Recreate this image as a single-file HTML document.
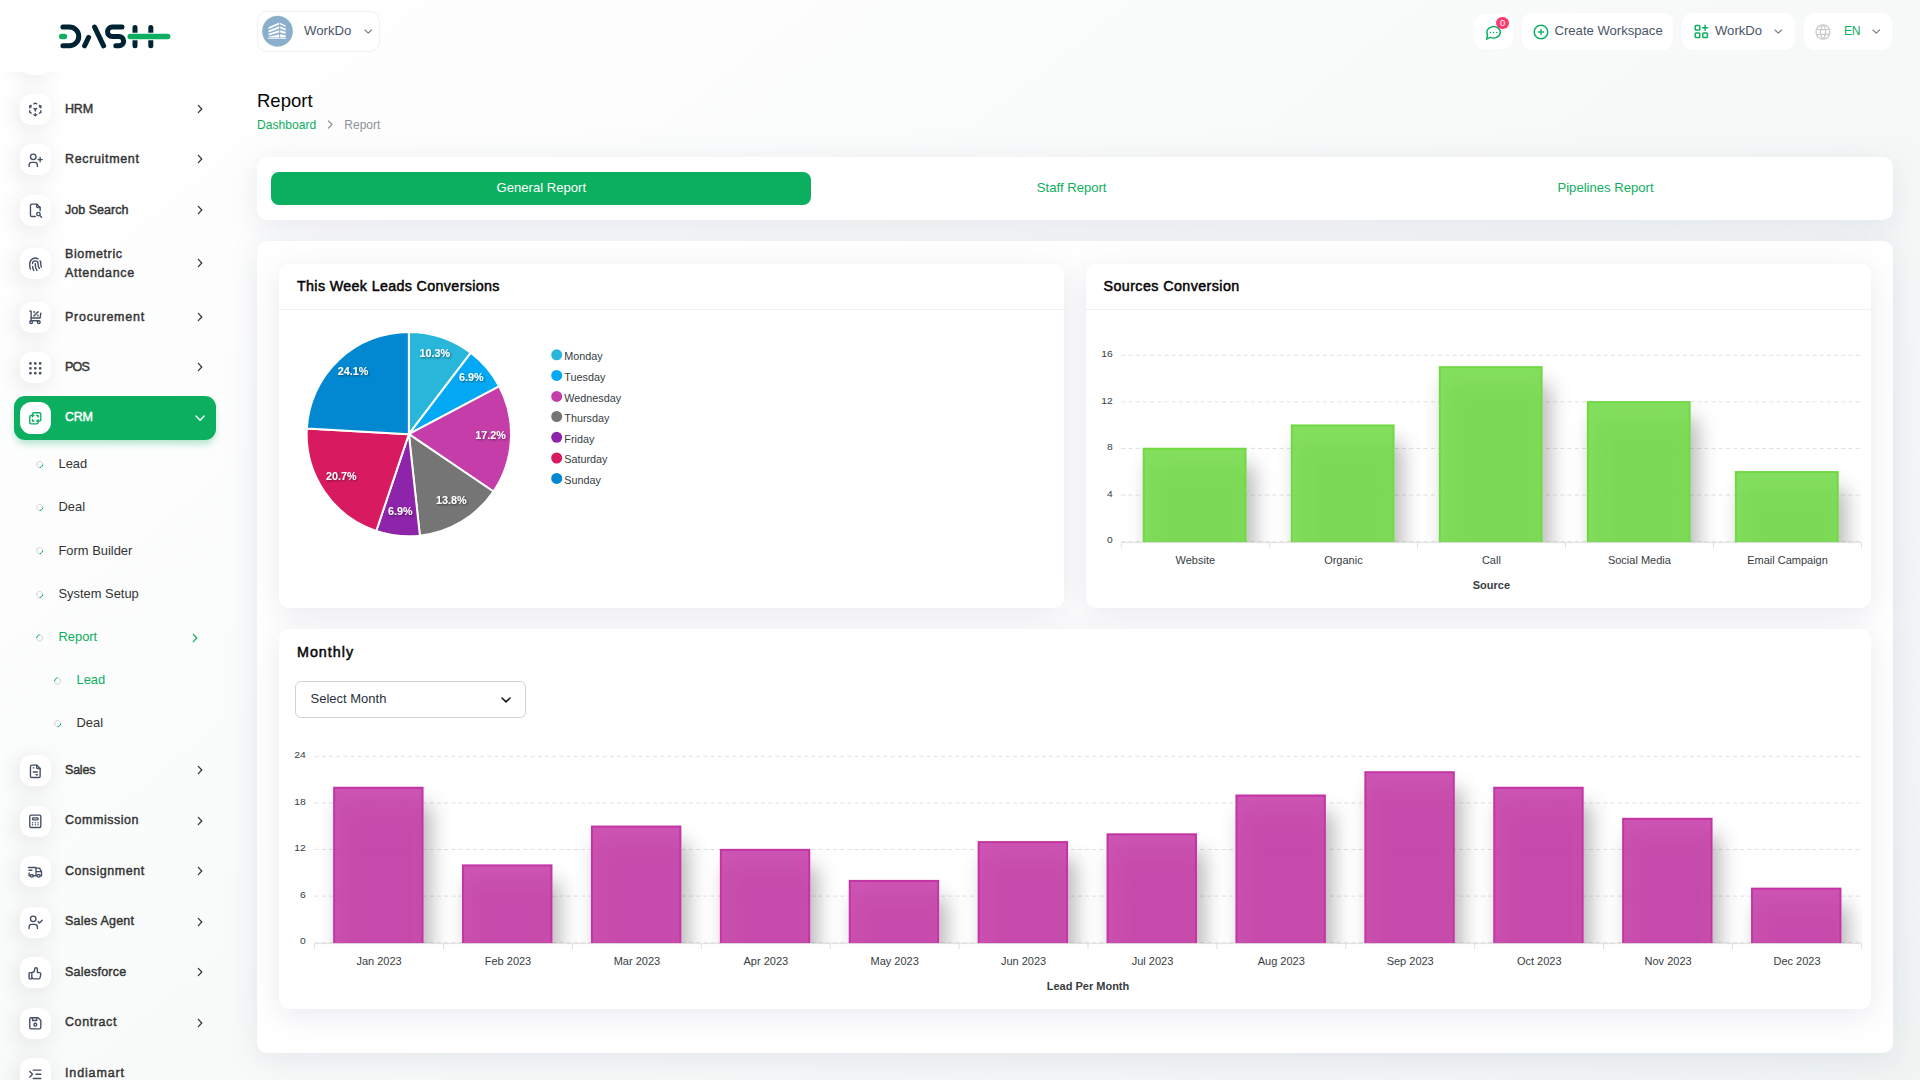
<!DOCTYPE html>
<html lang="en"><head><meta charset="utf-8"><title>Report</title>
<style>
*{box-sizing:border-box;margin:0;padding:0}
html,body{width:1920px;height:1080px;overflow:hidden}
body{font-family:"Liberation Sans",sans-serif;color:#293240;background:linear-gradient(141.55deg,rgba(240,244,243,0) 3.46%,#f0f4f3 99.86%),#ffffff;position:relative}
.abs{position:absolute}
.t{position:absolute;white-space:nowrap;line-height:20px}
svg{display:block;overflow:visible}
.ic{position:absolute;fill:none;stroke:#465064;stroke-width:2;stroke-linecap:round;stroke-linejoin:round}
/* sidebar */
.sidebar{position:absolute;left:0;top:0;width:240px;height:1080px}
.navwrap{position:absolute;left:0;top:72px;width:240px;height:1008px;overflow:hidden}
.mi{position:absolute;left:20px;width:31px;height:31px;border-radius:11.5px;background:#fff;box-shadow:-3px 4px 23px rgba(0,0,0,.10)}
.mi svg{position:absolute;left:7.4px;top:7.5px;width:16.6px;height:16.6px}
.nl{position:absolute;left:65px;font-size:12.5px;font-weight:400;color:#333;-webkit-text-stroke:.42px #333;line-height:19px;white-space:nowrap}
.sl{position:absolute;font-size:12.9px;color:#333;line-height:19px;white-space:nowrap}
.sl.g{color:#0caf60}
.chev{position:absolute;width:6px;height:10px;fill:none;stroke:#333;stroke-width:1.25;stroke-linecap:round;stroke-linejoin:round}
.bul{position:absolute;width:7.4px;height:7.4px;border-radius:50%;border:1px solid #d4d8e8;border-right-color:#0caf60;transform:rotate(45deg)}
.active{position:absolute;left:14px;top:396px;width:202px;height:44px;border-radius:11px;background:#0caf60;box-shadow:0 5px 7px -1px rgba(12,175,96,.30)}
/* header */
.hbtn{position:absolute;background:#fff;border-radius:10px}
.hd{font-size:13px;color:#465064}
/* cards */
.card{position:absolute;background:#fff;border-radius:10px;box-shadow:0 6px 30px rgba(182,186,203,.30)}
.ctitle{position:absolute;font-weight:700;font-size:14.5px;color:#060606;line-height:20px;white-space:nowrap}
.cx{font-family:"Liberation Sans",sans-serif}
</style></head>
<body>
<aside class="sidebar">
<svg class="abs" style="left:0;top:0;width:240px;height:70px" viewBox="0 0 240 70">
<g fill="none" stroke="#002333" stroke-width="5" stroke-linecap="round" stroke-linejoin="round">
<path d="M62.9 27.1H69.4A9.35 9.35 0 0 1 69.4 45.8H62.9"/>
<path d="M88.6 37.4L84.6 45.8"/>
<path d="M94.6 27.1L103.6 45.8"/>
<path d="M122 27.1H112.2A4.7 4.7 0 0 0 112.2 36.5H119A4.65 4.65 0 0 1 119 45.8H115.8"/>
<path d="M135 27.5V45.8"/>
<path d="M150.8 27.5V45.8"/>
</g>
<path d="M61.7 36.5H64.4" fill="none" stroke="#0caf60" stroke-width="5.4" stroke-linecap="round"/>
<path d="M130.2 36.5H167.7" fill="none" stroke="#ffffff" stroke-width="7.4" stroke-linecap="round"/>
<path d="M130.2 36.5H167.7" fill="none" stroke="#0caf60" stroke-width="5.4" stroke-linecap="round"/>
</svg>
<nav class="navwrap">
<div class="mi" style="top:-28.1px"></div>
<div class="mi" style="top:21.6px"><svg class="ic" viewBox="0 0 24 24" style="position:absolute"><path d="M6 17.6l-2 -1.1v-2.5"/><path d="M4 10v-2.5l2 -1.12"/><path d="M10 4.1l2 -1.1l2 1.1"/><path d="M18 6.4l2 1.1v2.5"/><path d="M20 14v2.5l-2 1.12"/><path d="M14 19.9l-2 1.1l-2 -1.1"/><path d="M12 12l2 -1.1"/><path d="M18 8.6l2 -1.1"/><path d="M12 12v2.5"/><path d="M12 18.5v2.5"/><path d="M12 12l-2 -1.12"/><path d="M6 8.6l-2 -1.1"/></svg></div><span class="nl" style="top:27.5px;letter-spacing:-0.2px">HRM</span><svg class="chev" style="left:197px;top:31.799999999999997px;stroke:#333" viewBox="0 0 6 10"><path d="M1.3 1.4l3.5 3.6l-3.5 3.6"/></svg>
<div class="mi" style="top:72.1px"><svg class="ic" viewBox="0 0 24 24" style="position:absolute"><circle cx="9" cy="7" r="4"/><path d="M3 21v-2a4 4 0 0 1 4 -4h4a4 4 0 0 1 4 4v2"/><path d="M16 11h6m-3 -3v6"/></svg></div><span class="nl" style="top:78.0px;letter-spacing:0.65px">Recruitment</span><svg class="chev" style="left:197px;top:82.3px;stroke:#333" viewBox="0 0 6 10"><path d="M1.3 1.4l3.5 3.6l-3.5 3.6"/></svg>
<div class="mi" style="top:122.6px"><svg class="ic" viewBox="0 0 24 24" style="position:absolute"><path d="M14 3v4a1 1 0 0 0 1 1h4"/><path d="M12 21h-5a2 2 0 0 1 -2 -2v-14a2 2 0 0 1 2 -2h7l5 5v4.5"/><circle cx="16.5" cy="17.5" r="2.5"/><path d="M18.5 19.5l2.5 2.5"/></svg></div><span class="nl" style="top:128.5px;letter-spacing:0.03px">Job Search</span><svg class="chev" style="left:197px;top:132.8px;stroke:#333" viewBox="0 0 6 10"><path d="M1.3 1.4l3.5 3.6l-3.5 3.6"/></svg>
<div class="mi" style="top:176.20000000000002px"><svg class="ic" viewBox="0 0 24 24" style="position:absolute"><path d="M18.9 7a8 8 0 0 1 1.1 5v1a6 6 0 0 0 .8 3"/><path d="M8 11a4 4 0 0 1 8 0v1a10 10 0 0 0 2 6"/><path d="M12 11v2a14 14 0 0 0 2.5 8"/><path d="M8 15a18 18 0 0 0 1.8 6"/><path d="M4.9 19a22 22 0 0 1 -.9 -7v-1a8 8 0 0 1 12 -6.95"/></svg></div><span class="nl" style="top:173.3px;line-height:18.8px;letter-spacing:0.62px">Biometric<br><span style="letter-spacing:0.66px">Attendance</span></span><svg class="chev" style="left:197px;top:186.40000000000003px;stroke:#333" viewBox="0 0 6 10"><path d="M1.3 1.4l3.5 3.6l-3.5 3.6"/></svg>
<div class="mi" style="top:229.70000000000002px"><svg class="ic" viewBox="0 0 24 24" style="position:absolute"><circle cx="6" cy="19" r="2"/><circle cx="17" cy="19" r="2"/><path d="M17 17h-11v-14h-2"/><path d="M20 6l-1 7h-13"/><path d="M10 10l6 -6"/><circle cx="10.5" cy="4.5" r=".5"/><circle cx="15.5" cy="9.5" r=".5"/></svg></div><span class="nl" style="top:235.60000000000002px;letter-spacing:0.76px">Procurement</span><svg class="chev" style="left:197px;top:239.90000000000003px;stroke:#333" viewBox="0 0 6 10"><path d="M1.3 1.4l3.5 3.6l-3.5 3.6"/></svg>
<div class="mi" style="top:280.20000000000005px"><svg class="ic" viewBox="0 0 24 24" style="position:absolute"><circle cx="5" cy="5" r="1"/><circle cx="12" cy="5" r="1"/><circle cx="19" cy="5" r="1"/><circle cx="5" cy="12" r="1"/><circle cx="12" cy="12" r="1"/><circle cx="19" cy="12" r="1"/><circle cx="5" cy="19" r="1"/><circle cx="12" cy="19" r="1"/><circle cx="19" cy="19" r="1"/></svg></div><span class="nl" style="top:286.1px;letter-spacing:-0.77px">POS</span><svg class="chev" style="left:197px;top:290.40000000000003px;stroke:#333" viewBox="0 0 6 10"><path d="M1.3 1.4l3.5 3.6l-3.5 3.6"/></svg>
<div class="active" style="top:324px"></div>
<div class="mi" style="top:330px;height:32px;box-shadow:none"><svg class="ic" viewBox="0 0 24 24" style="position:absolute;stroke:#0caf60"><path d="M16 16v2a2 2 0 0 1 -2 2h-8a2 2 0 0 1 -2 -2v-8a2 2 0 0 1 2 -2h2v-2a2 2 0 0 1 2 -2h8a2 2 0 0 1 2 2v8a2 2 0 0 1 -2 2h-2"/><path d="M10 8h-2v2"/><path d="M8 14v2h2"/><path d="M14 8h2v2"/><path d="M16 14v2h-2"/></svg></div>
<span class="nl" style="top:335.5px;color:#fff;-webkit-text-stroke-color:#fff;letter-spacing:-.25px">CRM</span>
<svg class="abs" style="left:195.4px;top:342.59999999999997px;width:10.2px;height:6.2px;fill:none;stroke:#fff;stroke-width:1.3;stroke-linecap:round;stroke-linejoin:round" viewBox="0 0 10.2 6.2"><path d="M1 1l4.1 4.2l4.1 -4.2"/></svg>
<i class="bul" style="left:35.9px;top:389.1px"></i><span class="sl" style="left:58.5px;top:382.40000000000003px">Lead</span>
<i class="bul" style="left:35.9px;top:431.6px"></i><span class="sl" style="left:58.5px;top:424.90000000000003px">Deal</span>
<i class="bul" style="left:35.9px;top:475.4px"></i><span class="sl" style="left:58.5px;top:468.7px">Form Builder</span>
<i class="bul" style="left:35.9px;top:518.55px"></i><span class="sl" style="left:58.5px;top:511.84999999999997px">System Setup</span>
<i class="bul" style="left:35.9px;top:561.7px;transform:rotate(225deg)"></i><span class="sl g" style="left:58.5px;top:555.0px">Report</span><svg class="chev" style="left:192px;top:560.5px;stroke:#0caf60" viewBox="0 0 6 10"><path d="M1.3 1.4l3.5 3.6l-3.5 3.6"/></svg>
<i class="bul" style="left:53.9px;top:604.85px;transform:rotate(225deg)"></i><span class="sl g" style="left:76.5px;top:598.15px">Lead</span>
<i class="bul" style="left:53.9px;top:648.0px"></i><span class="sl" style="left:76.5px;top:641.3px">Deal</span>
<div class="mi" style="top:683.0px"><svg class="ic" viewBox="0 0 24 24" style="position:absolute"><path d="M14 3v4a1 1 0 0 0 1 1h4"/><path d="M17 21h-10a2 2 0 0 1 -2 -2v-14a2 2 0 0 1 2 -2h7l5 5v11a2 2 0 0 1 -2 2z"/><path d="M9 7h1"/><path d="M9 13h6"/><path d="M13 17h2"/></svg></div><span class="nl" style="top:688.9px;letter-spacing:-0.21px">Sales</span><svg class="chev" style="left:197px;top:693.1999999999999px;stroke:#333" viewBox="0 0 6 10"><path d="M1.3 1.4l3.5 3.6l-3.5 3.6"/></svg>
<div class="mi" style="top:733.5px"><svg class="ic" viewBox="0 0 24 24" style="position:absolute"><rect x="4" y="3" width="16" height="18" rx="2"/><rect x="8" y="7" width="8" height="3" rx="1"/><path d="M8 14v.01M12 14v.01M16 14v.01M8 17v.01M12 17v.01M16 17v.01"/></svg></div><span class="nl" style="top:739.4px;letter-spacing:0.53px">Commission</span><svg class="chev" style="left:197px;top:743.6999999999999px;stroke:#333" viewBox="0 0 6 10"><path d="M1.3 1.4l3.5 3.6l-3.5 3.6"/></svg>
<div class="mi" style="top:784.0px"><svg class="ic" viewBox="0 0 24 24" style="position:absolute"><circle cx="7" cy="17" r="2"/><circle cx="17" cy="17" r="2"/><path d="M5 17h-2v-4m-1 -8h11v12m-4 0h6m4 0h2v-6h-8m0 -5h5l3 5"/><path d="M3 9h4"/></svg></div><span class="nl" style="top:789.9px;letter-spacing:0.55px">Consignment</span><svg class="chev" style="left:197px;top:794.1999999999999px;stroke:#333" viewBox="0 0 6 10"><path d="M1.3 1.4l3.5 3.6l-3.5 3.6"/></svg>
<div class="mi" style="top:834.5px"><svg class="ic" viewBox="0 0 24 24" style="position:absolute"><circle cx="9" cy="7" r="4"/><path d="M3 21v-2a4 4 0 0 1 4 -4h4a4 4 0 0 1 4 4v2"/><path d="M16 11l2 2l4 -4"/></svg></div><span class="nl" style="top:840.4px;letter-spacing:0.23px">Sales Agent</span><svg class="chev" style="left:197px;top:844.6999999999999px;stroke:#333" viewBox="0 0 6 10"><path d="M1.3 1.4l3.5 3.6l-3.5 3.6"/></svg>
<div class="mi" style="top:885.0px"><svg class="ic" viewBox="0 0 24 24" style="position:absolute"><path d="M7 11v8a1 1 0 0 1 -1 1h-2a1 1 0 0 1 -1 -1v-7a1 1 0 0 1 1 -1h3a4 4 0 0 0 4 -4v-1a2 2 0 0 1 4 0v5h3a2 2 0 0 1 2 2l-1 5a2 3 0 0 1 -2 2h-7a3 3 0 0 1 -3 -3"/></svg></div><span class="nl" style="top:890.9px;letter-spacing:0.24px">Salesforce</span><svg class="chev" style="left:197px;top:895.1999999999999px;stroke:#333" viewBox="0 0 6 10"><path d="M1.3 1.4l3.5 3.6l-3.5 3.6"/></svg>
<div class="mi" style="top:935.5px"><svg class="ic" viewBox="0 0 24 24" style="position:absolute"><path d="M6 4h10l4 4v10a2 2 0 0 1 -2 2h-12a2 2 0 0 1 -2 -2v-12a2 2 0 0 1 2 -2"/><circle cx="12" cy="14" r="2"/><path d="M14 4v4h-6v-4"/></svg></div><span class="nl" style="top:941.4px;letter-spacing:0.59px">Contract</span><svg class="chev" style="left:197px;top:945.6999999999999px;stroke:#333" viewBox="0 0 6 10"><path d="M1.3 1.4l3.5 3.6l-3.5 3.6"/></svg>
<div class="mi" style="top:986.0000000000001px"><svg class="ic" viewBox="0 0 24 24" style="position:absolute"><path d="M20 6h-11"/><path d="M20 12h-7"/><path d="M20 18h-11"/><path d="M4 8l4 4l-4 4"/></svg></div><span class="nl" style="top:991.9000000000001px;letter-spacing:0.86px">Indiamart</span>
</nav></aside>
<main>
<header>
<div class="hbtn" style="left:257px;top:11px;width:123px;height:41px;border:1px solid #f1f1f1"></div>
<svg class="abs" style="left:261px;top:15px;width:33px;height:33px" viewBox="0 0 33 33">
<circle cx="16.5" cy="16.2" r="15.7" fill="#d5eede"/><circle cx="16.5" cy="16.2" r="15.2" fill="#8aaecb"/>
<g fill="#fff" transform="translate(0 -1.2)"><path d="M7.5 13.4L18.2 8.6V10.6L7.5 15.2z"/><path d="M7.5 16.6L18.2 12.4V14.6L7.5 18.6z"/><path d="M7.5 20L18.2 16.4V18.8L7.5 21.8z"/><path d="M7.5 23L18.2 20.6V23.6H7.5z"/>
<path d="M19.2 9L24.6 11.6V13.2L19.2 10.8z"/><path d="M19.2 12.6L24.6 14.8V16.6L19.2 14.6z"/><path d="M19.2 16.4L24.6 18V20L19.2 18.6z"/><path d="M19.2 20.4L24.6 21.4V23.6H19.2z"/>
<path d="M6.6 24.2H25.4V25H6.6z" opacity=".85"/></g></svg>
<span class="t" style="left:304px;top:21.03px;font-size:13.2px;color:#4a5568;font-weight:400;">WorkDo</span>
<svg class="abs" style="left:364.15px;top:28.95px;width:8.5px;height:5.1px;fill:none;stroke:#747c89;stroke-width:1.1;stroke-linecap:round;stroke-linejoin:round" viewBox="0 0 8.5 5.1"><path d="M1 1l3.25 3.1l3.25 -3.1"/></svg>
<div class="hbtn" style="left:1474px;top:14px;width:39px;height:35px"></div>
<svg class="abs" style="left:1485px;top:25px;width:18px;height:16px;fill:none;stroke:#0caf60;stroke-width:1.5;stroke-linecap:round;stroke-linejoin:round" viewBox="0 0 18 16">
<path d="M1.7 14.1L2.5 10A6.8 5.7 0 1 1 5.4 12.4Z"/><path d="M5.5 7.6v.01M8.6 7.6v.01M11.7 7.6v.01" stroke-width="1.5"/></svg>
<div class="abs" style="left:1496px;top:16.5px;width:13px;height:12.5px;border-radius:7px;background:#ff3a6e"></div>
<span class="t" style="left:1502.6px;transform:translateX(-50%);top:12.91px;font-size:9.5px;color:#fff;font-weight:400;">0</span>
<div class="hbtn" style="left:1522px;top:13px;width:151px;height:37px"></div>
<svg class="abs" style="left:1533px;top:23.5px;width:16px;height:16px;fill:none;stroke:#0caf60;stroke-width:1.5;stroke-linecap:round" viewBox="0 0 16 16"><circle cx="8" cy="8" r="6.8"/><path d="M5.4 8h5.2M8 5.4v5.2" stroke-width="1.3"/></svg>
<span class="t" style="left:1554.5px;top:20.56px;font-size:13.1px;color:#4a5568;font-weight:400;">Create Workspace</span>
<div class="hbtn" style="left:1682px;top:13px;width:113px;height:37px"></div>
<svg class="abs" style="left:1693.5px;top:23.9px;width:15px;height:15px;fill:none;stroke:#0caf60;stroke-width:1.5;stroke-linecap:round;stroke-linejoin:round" viewBox="0 0 15 15"><rect x="1.2" y="1.4" width="4.6" height="4.6" rx=".8"/><rect x="1.2" y="9" width="4.6" height="4.6" rx=".8"/><rect x="8.8" y="9" width="4.6" height="4.6" rx=".8"/><path d="M8.6 3.7h5M11.1 1.2v5"/></svg>
<span class="t" style="left:1715px;top:20.56px;font-size:13.1px;color:#4a5568;font-weight:400;">WorkDo</span>
<svg class="abs" style="left:1774.25px;top:28.65px;width:8.5px;height:5.1px;fill:none;stroke:#747c89;stroke-width:1.1;stroke-linecap:round;stroke-linejoin:round" viewBox="0 0 8.5 5.1"><path d="M1 1l3.25 3.1l3.25 -3.1"/></svg>
<div class="hbtn" style="left:1804px;top:13px;width:88px;height:37px"></div>
<svg class="abs" style="left:1815px;top:24px;width:16px;height:16px;fill:none;stroke:#c9cbd0;stroke-width:1.3" viewBox="0 0 16 16"><circle cx="8" cy="8" r="7"/><path d="M1.6 5.6h12.8M1.6 10.4h12.8M7.6 1a13 13 0 0 0 0 14M8.4 1a13 13 0 0 1 0 14"/></svg>
<span class="t" style="left:1844px;top:20.87px;font-size:12.2px;color:#0caf60;font-weight:400;letter-spacing:-.4px;">EN</span>
<svg class="abs" style="left:1871.55px;top:28.65px;width:8.5px;height:5.1px;fill:none;stroke:#747c89;stroke-width:1.1;stroke-linecap:round;stroke-linejoin:round" viewBox="0 0 8.5 5.1"><path d="M1 1l3.25 3.1l3.25 -3.1"/></svg>
</header>
<span class="t" style="left:257px;top:91.29px;font-size:18.5px;color:#060606;font-weight:400;">Report</span>
<span class="t" style="left:257px;top:114.51px;font-size:12.1px;color:#0caf60;font-weight:400;">Dashboard</span>
<svg class="abs" style="left:327px;top:120px;width:7px;height:9px;fill:none;stroke:#8c929c;stroke-width:1.2;stroke-linecap:round;stroke-linejoin:round" viewBox="0 0 7 9"><path d="M1.5 1l3.6 3.5l-3.6 3.5"/></svg>
<span class="t" style="left:344.3px;top:114.54px;font-size:12px;color:#8c929c;font-weight:400;">Report</span>
<section class="card" style="left:257px;top:157px;width:1636px;height:63px"></section>
<div class="abs" style="left:271px;top:172px;width:540px;height:33px;border-radius:8px;background:#0caf60"></div>
<span class="t" style="left:541.3px;transform:translateX(-50%);top:178.36px;font-size:13.1px;color:#fff;font-weight:400;">General Report</span>
<span class="t" style="left:1071.7px;transform:translateX(-50%);top:178.36px;font-size:13.1px;color:#0caf60;font-weight:400;">Staff Report</span>
<span class="t" style="left:1605.5px;transform:translateX(-50%);top:178.36px;font-size:13.1px;color:#0caf60;font-weight:400;">Pipelines Report</span>
<section class="card" style="left:257px;top:241px;width:1636px;height:812px"></section>
<div class="card" style="left:279px;top:264px;width:785px;height:344px"></div>
<div class="card" style="left:1086px;top:264px;width:785px;height:344px"></div>
<div class="card" style="left:279px;top:629px;width:1592px;height:380px"></div>
<div class="abs" style="left:279px;top:309px;width:785px;height:1px;background:#f1f1f1"></div>
<div class="abs" style="left:1086px;top:309px;width:785px;height:1px;background:#f1f1f1"></div>
<span class="t" style="left:297px;top:276.35px;font-size:14.3px;color:#060606;font-weight:400;-webkit-text-stroke:.5px #060606;letter-spacing:.34px;">This Week Leads Conversions</span>
<span class="t" style="left:1103.5px;top:276.35px;font-size:14.3px;color:#060606;font-weight:400;-webkit-text-stroke:.5px #060606;letter-spacing:.41px;">Sources Conversion</span>
<span class="t" style="left:297px;top:642.15px;font-size:14.3px;color:#060606;font-weight:400;-webkit-text-stroke:.5px #060606;letter-spacing:1px;">Monthly</span>
<div class="abs" style="left:295px;top:681px;width:231px;height:37px;border:1px solid #ced4da;border-radius:6px;background:#fff"></div>
<span class="t" style="left:310.5px;top:688.60px;font-size:13px;color:#293240;font-weight:400;">Select Month</span>
<svg class="abs" style="left:500.5px;top:697.15px;width:10px;height:5.9px;fill:none;stroke:#111;stroke-width:1.5;stroke-linecap:round;stroke-linejoin:round" viewBox="0 0 10 5.9"><path d="M1 1l4.0 3.9l4.0 -3.9"/></svg>
<svg class="abs" style="left:0;top:0;width:1920px;height:1080px" viewBox="0 0 1920 1080">
<defs><filter id="ds" x="-30%" y="-30%" width="160%" height="160%"><feDropShadow dx="1" dy="1" stdDeviation="0.9" flood-color="#000" flood-opacity=".5"/></filter></defs>
<path d="M408.85 434.15L408.85 331.95A102.2 102.2 0 0 1 470.70 352.79Z" fill="#29b6db" stroke="#fff" stroke-width="2" stroke-linejoin="round"/>
<path d="M408.85 434.15L470.70 352.79A102.2 102.2 0 0 1 499.14 386.28Z" fill="#03a9f4" stroke="#fff" stroke-width="2" stroke-linejoin="round"/>
<path d="M408.85 434.15L499.14 386.28A102.2 102.2 0 0 1 493.44 491.50Z" fill="#c53da9" stroke="#fff" stroke-width="2" stroke-linejoin="round"/>
<path d="M408.85 434.15L493.44 491.50A102.2 102.2 0 0 1 419.90 535.75Z" fill="#757575" stroke="#fff" stroke-width="2" stroke-linejoin="round"/>
<path d="M408.85 434.15L419.90 535.75A102.2 102.2 0 0 1 376.22 531.00Z" fill="#8e24aa" stroke="#fff" stroke-width="2" stroke-linejoin="round"/>
<path d="M408.85 434.15L376.22 531.00A102.2 102.2 0 0 1 306.80 428.62Z" fill="#d81b60" stroke="#fff" stroke-width="2" stroke-linejoin="round"/>
<path d="M408.85 434.15L306.80 428.62A102.2 102.2 0 0 1 408.85 331.95Z" fill="#0288d1" stroke="#fff" stroke-width="2" stroke-linejoin="round"/>
<text x="434.8" y="357.3" text-anchor="middle" font-family="Liberation Sans, sans-serif" font-size="10.8" font-weight="700" fill="#fff" filter="url(#ds)">10.3%</text>
<text x="471.3" y="380.9" text-anchor="middle" font-family="Liberation Sans, sans-serif" font-size="10.8" font-weight="700" fill="#fff" filter="url(#ds)">6.9%</text>
<text x="490.6" y="439.1" text-anchor="middle" font-family="Liberation Sans, sans-serif" font-size="10.8" font-weight="700" fill="#fff" filter="url(#ds)">17.2%</text>
<text x="451.4" y="503.9" text-anchor="middle" font-family="Liberation Sans, sans-serif" font-size="10.8" font-weight="700" fill="#fff" filter="url(#ds)">13.8%</text>
<text x="400.4" y="514.9" text-anchor="middle" font-family="Liberation Sans, sans-serif" font-size="10.8" font-weight="700" fill="#fff" filter="url(#ds)">6.9%</text>
<text x="341.3" y="479.9" text-anchor="middle" font-family="Liberation Sans, sans-serif" font-size="10.8" font-weight="700" fill="#fff" filter="url(#ds)">20.7%</text>
<text x="353.0" y="374.9" text-anchor="middle" font-family="Liberation Sans, sans-serif" font-size="10.8" font-weight="700" fill="#fff" filter="url(#ds)">24.1%</text>
<circle cx="556.7" cy="354.8" r="5.5" fill="#29b6db"/>
<text x="564.3" y="360.0" font-family="Liberation Sans, sans-serif" font-size="10.8" fill="#373d3f">Monday</text>
<circle cx="556.7" cy="375.4" r="5.5" fill="#03a9f4"/>
<text x="564.3" y="380.6" font-family="Liberation Sans, sans-serif" font-size="10.8" fill="#373d3f">Tuesday</text>
<circle cx="556.7" cy="396.4" r="5.5" fill="#c53da9"/>
<text x="564.3" y="401.6" font-family="Liberation Sans, sans-serif" font-size="10.8" fill="#373d3f">Wednesday</text>
<circle cx="556.7" cy="416.5" r="5.5" fill="#757575"/>
<text x="564.3" y="421.7" font-family="Liberation Sans, sans-serif" font-size="10.8" fill="#373d3f">Thursday</text>
<circle cx="556.7" cy="437.3" r="5.5" fill="#8e24aa"/>
<text x="564.3" y="442.5" font-family="Liberation Sans, sans-serif" font-size="10.8" fill="#373d3f">Friday</text>
<circle cx="556.7" cy="458" r="5.5" fill="#d81b60"/>
<text x="564.3" y="463.2" font-family="Liberation Sans, sans-serif" font-size="10.8" fill="#373d3f">Saturday</text>
<circle cx="556.7" cy="478.4" r="5.5" fill="#0288d1"/>
<text x="564.3" y="483.6" font-family="Liberation Sans, sans-serif" font-size="10.8" fill="#373d3f">Sunday</text>
</svg>
<svg class="abs" style="left:0;top:0;width:1920px;height:1080px" viewBox="0 0 1920 1080">
<defs><filter id="sf" x="-50%" y="-50%" width="220%" height="220%" filterUnits="objectBoundingBox">
<feFlood flood-color="#000" flood-opacity=".33" result="fl"/><feComposite in="fl" in2="SourceAlpha" operator="in" result="c"/><feOffset in="c" dx="7" dy="18" result="o"/><feGaussianBlur in="o" stdDeviation="10" result="b"/><feMerge><feMergeNode in="b"/><feMergeNode in="SourceGraphic"/></feMerge></filter>
<clipPath id="sc"><rect x="1117.3" y="352.2" width="745.2" height="190.70000000000005"/></clipPath></defs>
<line x1="1121.3" x2="1860.5" y1="541.70" y2="541.70" stroke="#e0e0e0" stroke-width="1" stroke-dasharray="4 3.2"/>
<text transform="translate(1112.7 543.4) scale(1.2 1)" text-anchor="end" font-family="Liberation Sans, sans-serif" font-size="8.6" fill="#373d3f">0</text>
<line x1="1121.3" x2="1860.5" y1="495.08" y2="495.08" stroke="#e0e0e0" stroke-width="1" stroke-dasharray="4 3.2"/>
<text transform="translate(1112.7 496.8) scale(1.2 1)" text-anchor="end" font-family="Liberation Sans, sans-serif" font-size="8.6" fill="#373d3f">4</text>
<line x1="1121.3" x2="1860.5" y1="448.45" y2="448.45" stroke="#e0e0e0" stroke-width="1" stroke-dasharray="4 3.2"/>
<text transform="translate(1112.7 450.2) scale(1.2 1)" text-anchor="end" font-family="Liberation Sans, sans-serif" font-size="8.6" fill="#373d3f">8</text>
<line x1="1121.3" x2="1860.5" y1="401.82" y2="401.82" stroke="#e0e0e0" stroke-width="1" stroke-dasharray="4 3.2"/>
<text transform="translate(1112.7 403.5) scale(1.2 1)" text-anchor="end" font-family="Liberation Sans, sans-serif" font-size="8.6" fill="#373d3f">12</text>
<line x1="1121.3" x2="1860.5" y1="355.20" y2="355.20" stroke="#e0e0e0" stroke-width="1" stroke-dasharray="4 3.2"/>
<text transform="translate(1112.7 356.9) scale(1.2 1)" text-anchor="end" font-family="Liberation Sans, sans-serif" font-size="8.6" fill="#373d3f">16</text>
<g clip-path="url(#sc)">
<rect x="1143.71" y="448.75" width="101.83" height="94.95" fill="#6fd943" fill-opacity=".85" stroke="#6fd943" stroke-width="2" filter="url(#sf)"/>
<rect x="1291.75" y="425.44" width="101.83" height="118.26" fill="#6fd943" fill-opacity=".85" stroke="#6fd943" stroke-width="2" filter="url(#sf)"/>
<rect x="1439.79" y="367.16" width="101.83" height="176.54" fill="#6fd943" fill-opacity=".85" stroke="#6fd943" stroke-width="2" filter="url(#sf)"/>
<rect x="1587.83" y="402.12" width="101.83" height="141.58" fill="#6fd943" fill-opacity=".85" stroke="#6fd943" stroke-width="2" filter="url(#sf)"/>
<rect x="1735.87" y="472.06" width="101.83" height="71.64" fill="#6fd943" fill-opacity=".85" stroke="#6fd943" stroke-width="2" filter="url(#sf)"/>
</g>
<line x1="1121.3" x2="1861.5" y1="542.6" y2="542.6" stroke="#e0e0e0" stroke-width="1"/>
<line x1="1121.30" x2="1121.30" y1="542.6" y2="548.1" stroke="#e0e0e0" stroke-width="1"/>
<line x1="1269.34" x2="1269.34" y1="542.6" y2="548.1" stroke="#e0e0e0" stroke-width="1"/>
<line x1="1417.38" x2="1417.38" y1="542.6" y2="548.1" stroke="#e0e0e0" stroke-width="1"/>
<line x1="1565.42" x2="1565.42" y1="542.6" y2="548.1" stroke="#e0e0e0" stroke-width="1"/>
<line x1="1713.46" x2="1713.46" y1="542.6" y2="548.1" stroke="#e0e0e0" stroke-width="1"/>
<line x1="1861.50" x2="1861.50" y1="542.6" y2="548.1" stroke="#e0e0e0" stroke-width="1"/>
<text x="1195.3" y="563.8" text-anchor="middle" font-family="Liberation Sans, sans-serif" font-size="11" fill="#373d3f">Website</text>
<text x="1343.4" y="563.8" text-anchor="middle" font-family="Liberation Sans, sans-serif" font-size="11" fill="#373d3f">Organic</text>
<text x="1491.4" y="563.8" text-anchor="middle" font-family="Liberation Sans, sans-serif" font-size="11" fill="#373d3f">Call</text>
<text x="1639.4" y="563.8" text-anchor="middle" font-family="Liberation Sans, sans-serif" font-size="11" fill="#373d3f">Social Media</text>
<text x="1787.5" y="563.8" text-anchor="middle" font-family="Liberation Sans, sans-serif" font-size="11" fill="#373d3f">Email Campaign</text>
<text x="1491.4" y="588.8" text-anchor="middle" font-family="Liberation Sans, sans-serif" font-size="11" font-weight="700" fill="#373d3f">Source</text>
</svg>
<svg class="abs" style="left:0;top:0;width:1920px;height:1080px" viewBox="0 0 1920 1080">
<defs><filter id="mf" x="-50%" y="-50%" width="220%" height="220%" filterUnits="objectBoundingBox">
<feFlood flood-color="#000" flood-opacity=".33" result="fl"/><feComposite in="fl" in2="SourceAlpha" operator="in" result="c"/><feOffset in="c" dx="7" dy="18" result="o"/><feGaussianBlur in="o" stdDeviation="10" result="b"/><feMerge><feMergeNode in="b"/><feMergeNode in="SourceGraphic"/></feMerge></filter>
<clipPath id="mc"><rect x="310.6" y="753.4" width="1551.8000000000002" height="190.50000000000006"/></clipPath></defs>
<line x1="314.6" x2="1860.4" y1="942.70" y2="942.70" stroke="#e0e0e0" stroke-width="1" stroke-dasharray="4 3.2"/>
<text transform="translate(305.8 944.4) scale(1.2 1)" text-anchor="end" font-family="Liberation Sans, sans-serif" font-size="8.6" fill="#373d3f">0</text>
<line x1="314.6" x2="1860.4" y1="896.12" y2="896.12" stroke="#e0e0e0" stroke-width="1" stroke-dasharray="4 3.2"/>
<text transform="translate(305.8 897.8) scale(1.2 1)" text-anchor="end" font-family="Liberation Sans, sans-serif" font-size="8.6" fill="#373d3f">6</text>
<line x1="314.6" x2="1860.4" y1="849.55" y2="849.55" stroke="#e0e0e0" stroke-width="1" stroke-dasharray="4 3.2"/>
<text transform="translate(305.8 851.2) scale(1.2 1)" text-anchor="end" font-family="Liberation Sans, sans-serif" font-size="8.6" fill="#373d3f">12</text>
<line x1="314.6" x2="1860.4" y1="802.98" y2="802.98" stroke="#e0e0e0" stroke-width="1" stroke-dasharray="4 3.2"/>
<text transform="translate(305.8 804.7) scale(1.2 1)" text-anchor="end" font-family="Liberation Sans, sans-serif" font-size="8.6" fill="#373d3f">18</text>
<line x1="314.6" x2="1860.4" y1="756.40" y2="756.40" stroke="#e0e0e0" stroke-width="1" stroke-dasharray="4 3.2"/>
<text transform="translate(305.8 758.1) scale(1.2 1)" text-anchor="end" font-family="Liberation Sans, sans-serif" font-size="8.6" fill="#373d3f">24</text>
<g clip-path="url(#mc)">
<rect x="334.13" y="787.75" width="88.43" height="156.95" fill="#c335a5" fill-opacity=".85" stroke="#c335a5" stroke-width="2" filter="url(#mf)"/>
<rect x="463.03" y="865.38" width="88.43" height="79.33" fill="#c335a5" fill-opacity=".85" stroke="#c335a5" stroke-width="2" filter="url(#mf)"/>
<rect x="591.94" y="826.56" width="88.43" height="118.14" fill="#c335a5" fill-opacity=".85" stroke="#c335a5" stroke-width="2" filter="url(#mf)"/>
<rect x="720.84" y="849.85" width="88.43" height="94.85" fill="#c335a5" fill-opacity=".85" stroke="#c335a5" stroke-width="2" filter="url(#mf)"/>
<rect x="849.74" y="880.90" width="88.43" height="63.80" fill="#c335a5" fill-opacity=".85" stroke="#c335a5" stroke-width="2" filter="url(#mf)"/>
<rect x="978.64" y="842.09" width="88.43" height="102.61" fill="#c335a5" fill-opacity=".85" stroke="#c335a5" stroke-width="2" filter="url(#mf)"/>
<rect x="1107.54" y="834.32" width="88.43" height="110.38" fill="#c335a5" fill-opacity=".85" stroke="#c335a5" stroke-width="2" filter="url(#mf)"/>
<rect x="1236.44" y="795.51" width="88.43" height="149.19" fill="#c335a5" fill-opacity=".85" stroke="#c335a5" stroke-width="2" filter="url(#mf)"/>
<rect x="1365.34" y="772.22" width="88.43" height="172.48" fill="#c335a5" fill-opacity=".85" stroke="#c335a5" stroke-width="2" filter="url(#mf)"/>
<rect x="1494.24" y="787.75" width="88.43" height="156.95" fill="#c335a5" fill-opacity=".85" stroke="#c335a5" stroke-width="2" filter="url(#mf)"/>
<rect x="1623.13" y="818.80" width="88.43" height="125.90" fill="#c335a5" fill-opacity=".85" stroke="#c335a5" stroke-width="2" filter="url(#mf)"/>
<rect x="1752.04" y="888.66" width="88.43" height="56.04" fill="#c335a5" fill-opacity=".85" stroke="#c335a5" stroke-width="2" filter="url(#mf)"/>
</g>
<line x1="314.6" x2="1861.4" y1="943.6" y2="943.6" stroke="#e0e0e0" stroke-width="1"/>
<line x1="314.60" x2="314.60" y1="943.6" y2="949.1" stroke="#e0e0e0" stroke-width="1"/>
<line x1="443.50" x2="443.50" y1="943.6" y2="949.1" stroke="#e0e0e0" stroke-width="1"/>
<line x1="572.40" x2="572.40" y1="943.6" y2="949.1" stroke="#e0e0e0" stroke-width="1"/>
<line x1="701.30" x2="701.30" y1="943.6" y2="949.1" stroke="#e0e0e0" stroke-width="1"/>
<line x1="830.20" x2="830.20" y1="943.6" y2="949.1" stroke="#e0e0e0" stroke-width="1"/>
<line x1="959.10" x2="959.10" y1="943.6" y2="949.1" stroke="#e0e0e0" stroke-width="1"/>
<line x1="1088.00" x2="1088.00" y1="943.6" y2="949.1" stroke="#e0e0e0" stroke-width="1"/>
<line x1="1216.90" x2="1216.90" y1="943.6" y2="949.1" stroke="#e0e0e0" stroke-width="1"/>
<line x1="1345.80" x2="1345.80" y1="943.6" y2="949.1" stroke="#e0e0e0" stroke-width="1"/>
<line x1="1474.70" x2="1474.70" y1="943.6" y2="949.1" stroke="#e0e0e0" stroke-width="1"/>
<line x1="1603.60" x2="1603.60" y1="943.6" y2="949.1" stroke="#e0e0e0" stroke-width="1"/>
<line x1="1732.50" x2="1732.50" y1="943.6" y2="949.1" stroke="#e0e0e0" stroke-width="1"/>
<line x1="1861.40" x2="1861.40" y1="943.6" y2="949.1" stroke="#e0e0e0" stroke-width="1"/>
<text x="379.1" y="964.8" text-anchor="middle" font-family="Liberation Sans, sans-serif" font-size="11" fill="#373d3f">Jan 2023</text>
<text x="508.0" y="964.8" text-anchor="middle" font-family="Liberation Sans, sans-serif" font-size="11" fill="#373d3f">Feb 2023</text>
<text x="636.9" y="964.8" text-anchor="middle" font-family="Liberation Sans, sans-serif" font-size="11" fill="#373d3f">Mar 2023</text>
<text x="765.8" y="964.8" text-anchor="middle" font-family="Liberation Sans, sans-serif" font-size="11" fill="#373d3f">Apr 2023</text>
<text x="894.7" y="964.8" text-anchor="middle" font-family="Liberation Sans, sans-serif" font-size="11" fill="#373d3f">May 2023</text>
<text x="1023.6" y="964.8" text-anchor="middle" font-family="Liberation Sans, sans-serif" font-size="11" fill="#373d3f">Jun 2023</text>
<text x="1152.5" y="964.8" text-anchor="middle" font-family="Liberation Sans, sans-serif" font-size="11" fill="#373d3f">Jul 2023</text>
<text x="1281.3" y="964.8" text-anchor="middle" font-family="Liberation Sans, sans-serif" font-size="11" fill="#373d3f">Aug 2023</text>
<text x="1410.2" y="964.8" text-anchor="middle" font-family="Liberation Sans, sans-serif" font-size="11" fill="#373d3f">Sep 2023</text>
<text x="1539.2" y="964.8" text-anchor="middle" font-family="Liberation Sans, sans-serif" font-size="11" fill="#373d3f">Oct 2023</text>
<text x="1668.1" y="964.8" text-anchor="middle" font-family="Liberation Sans, sans-serif" font-size="11" fill="#373d3f">Nov 2023</text>
<text x="1797.0" y="964.8" text-anchor="middle" font-family="Liberation Sans, sans-serif" font-size="11" fill="#373d3f">Dec 2023</text>
<text x="1088.0" y="989.9" text-anchor="middle" font-family="Liberation Sans, sans-serif" font-size="11" font-weight="700" fill="#373d3f">Lead Per Month</text>
</svg>
</main>
</body></html>
